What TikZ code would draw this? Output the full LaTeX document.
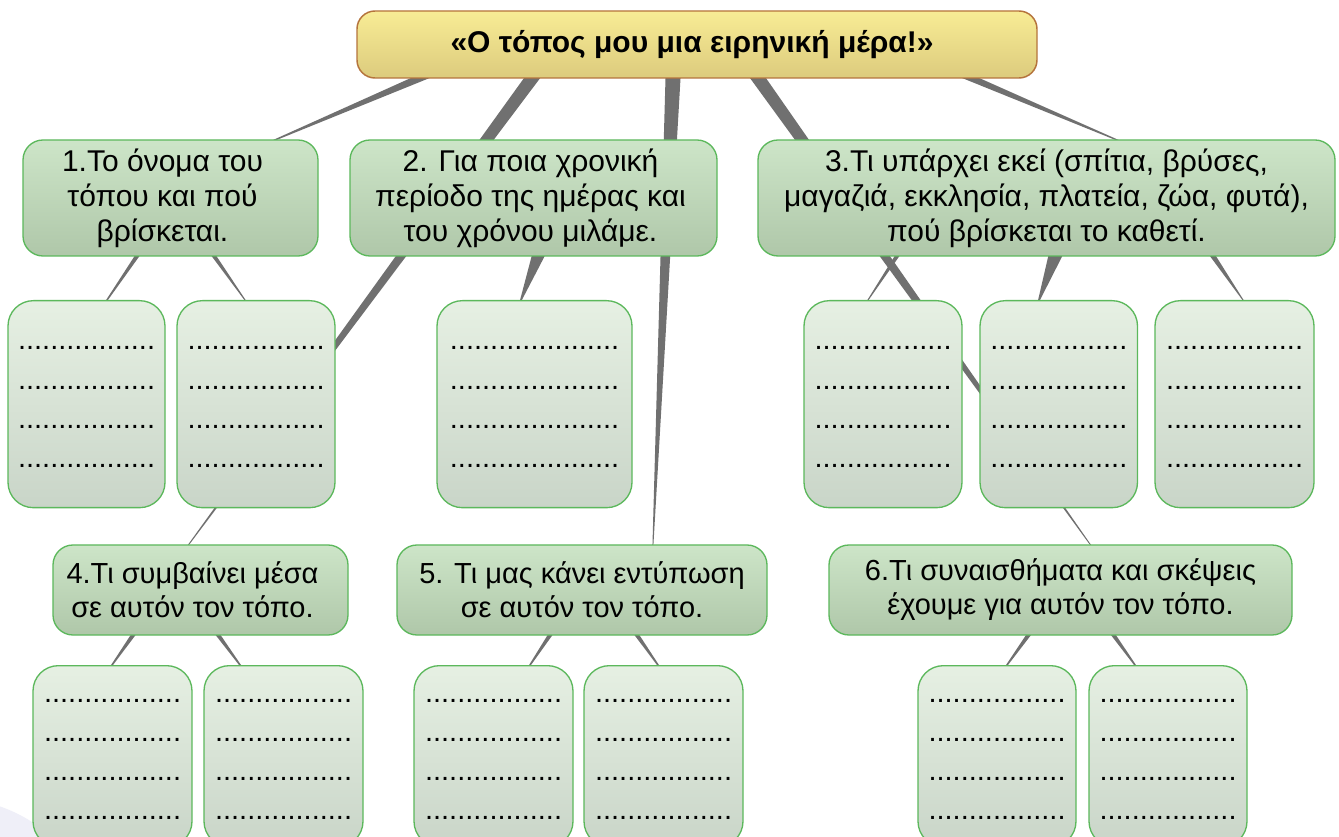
\documentclass[tikz,border=0pt]{standalone}
\usepackage{fontspec}
\setmainfont{Liberation Sans}
\usepackage{xcolor}
\usetikzlibrary{calc}
\definecolor{headtop}{HTML}{F8EC95}
\definecolor{headbottom}{HTML}{DCCB7D}
\definecolor{headrim}{HTML}{B5743C}
\definecolor{topictop}{HTML}{CDE5C8}
\definecolor{topicbottom}{HTML}{AFC7A9}
\definecolor{notetop}{HTML}{E6F0E3}
\definecolor{notebottom}{HTML}{C9D5C8}
\definecolor{leafrim}{HTML}{5CB85C}
\definecolor{twig}{HTML}{707070}
\definecolor{haze}{HTML}{EFEFF8}
\newlength\px
\setlength\px{0.75pt}
\newcommand\dotrow{.................}
\newcommand\dotrowlong{.....................}

% tapered branch: from (#1) with half width #3 to (#2) with half width #4
\newcommand\taper[4]{%
  \fill[twig] ($(#1)!#3!90:(#2)$) -- ($(#2)!#4!-90:(#1)$)
    -- ($(#2)!#4!90:(#1)$) -- ($(#1)!#3!-90:(#2)$) -- cycle;}

% green box with its text: name, x, y, width, height, text shift, text
\newcommand\topic[7]{%
  \node[topic,minimum width=#4\px,minimum height=#5\px] (#1) at (#2,#3) {};
  \node[topictext] (#1-text) at ($(#1)+(#6,0)$) {#7};}

% pale box with four dotted lines: name, x, top, width, height, first line, dots
\newcommand\notes[7]{%
  \node[note,minimum width=#4\px,minimum height=#5\px,anchor=north] (#1) at (#2,#3) {};
  \foreach \k in {0,...,3}
    \node[dotline] (#1-\k) at ($(#1.north)+(0,#6+39.3*\k)$) {#7};}

\begin{document}
\begin{tikzpicture}[x=0.75pt,y=-0.75pt,
    head/.style={draw=headrim,line width=1.1pt,rounded corners=13.5pt,
                 top color=headtop,bottom color=headbottom,
                 minimum width=510pt,minimum height=50.25pt},
    headtext/.style={font=\fontsize{22.5}{26}\selectfont\bfseries},
    topic/.style={draw=leafrim,line width=1pt,rounded corners=15pt,
                  top color=topictop,bottom color=topicbottom},
    topictext/.style={align=center,font=\fontsize{21.75}{25.5}\selectfont},
    note/.style={draw=leafrim,line width=1pt,rounded corners=19pt,
                 top color=notetop,bottom color=notebottom},
    dotline/.style={anchor=base,inner sep=0pt,font=\fontsize{21.75}{26}\selectfont}
  ]
  \fill[white] (0,0) rectangle (1339,837);
  \useasboundingbox (0,0) rectangle (1339,837);
  \clip (0,0) rectangle (1339,837);
  \fill[haze] (-50,950) circle[radius=114pt];

  % branches, drawn first so that the boxes hide their ends
  \foreach \b/\ax/\ay/\aw/\bx/\by/\bw in {
      h1/462/60/3.41pt/256/148/0.23pt,
      h4/549/55/5.1pt/181/555/0.26pt,
      h5/674/55/5.89pt/652.5/555/0.24pt,
      h6/741.6/55/5.1pt/1097.7/555/0.23pt,
      h3/928.5/60/3.1pt/1136/148/0.19pt,
      a1/142.5/248/1.69pt/103.6/305/0.45pt,
      a2/208.4/248/1.69pt/248.5/305/0.26pt,
      b1/542.2/245/5.53pt/519/305/0.19pt,
      c1/902.3/248/1.69pt/864.7/305/0.26pt,
      c2/1059/245/6pt/1037.2/305/0.19pt,
      c3/1207.5/248/2.14pt/1246.4/305/0.19pt,
      d1/138/628/1.72pt/108.5/670/0.45pt,
      d2/213/628/1.72pt/243.7/670/0.45pt,
      e1/554.7/628/1.72pt/526.7/670/0.45pt,
      e2/632/628/1.72pt/661.5/670/0.45pt,
      f1/1033.5/628/1.72pt/1003.4/670/0.45pt,
      f2/1108.4/628/1.72pt/1138.6/670/0.45pt}
  {
    \coordinate (\b-from) at (\ax,\ay);
    \coordinate (\b-to) at (\bx,\by);
    \taper{\b-from}{\b-to}{\aw}{\bw}
  }

  \node[head] (head) at (697,44.5) {};
  \node[headtext] (head-text) at ($(head)+(-5,0)$) {«Ο τόπος μου μια ειρηνική μέρα!»};

  \begin{scope}[topictext/.append style={font=\fontsize{22.5}{26.25}\selectfont}]
  \topic{t1}{170.5}{198}{295}{116}{-8}{1.Το όνομα του\\τόπου και πού\\βρίσκεται.}
  \topic{t2}{533.5}{198}{367}{116}{-3}{2. Για ποια χρονική\\περίοδο της ημέρας και\\του χρόνου μιλάμε.}
  \topic{t3}{1046.5}{198}{577}{116}{0}{3.Τι υπάρχει εκεί (σπίτια, βρύσες,\\μαγαζιά, εκκλησία, πλατεία, ζώα, φυτά),\\πού βρίσκεται το καθετί.}
  \end{scope}
  \topic{t4}{200.5}{590}{295}{90}{-8}{4.Τι συμβαίνει μέσα\\σε αυτόν τον τόπο.}
  \topic{t5}{582}{590}{370}{90}{0}{5. Τι μας κάνει εντύπωση\\σε αυτόν τον τόπο.}
  \topic{t6}{1060.5}{590}{463}{90}{0}{6.Τι συναισθήματα και σκέψεις\\έχουμε για αυτόν τον τόπο.}

  \notes{n1}{86.5}{300}{157}{207}{50}{\dotrow}
  \notes{n2}{256}{300}{158}{207}{50}{\dotrow}
  \notes{n3}{534.5}{300}{195}{207}{50}{\dotrowlong}
  \notes{n4}{883}{300}{158}{207}{50}{\dotrow}
  \notes{n5}{1058.75}{300}{157.5}{207}{50}{\dotrow}
  \notes{n6}{1234.5}{300}{159}{207}{50}{\dotrow}

  \notes{n7}{112.5}{665}{159}{181}{37}{\dotrow}
  \notes{n8}{283.5}{665}{159}{181}{37}{\dotrow}
  \notes{n9}{493.5}{665}{159}{181}{37}{\dotrow}
  \notes{n10}{663.5}{665}{159}{181}{37}{\dotrow}
  \notes{n11}{997}{665}{158}{181}{37}{\dotrow}
  \notes{n12}{1168}{665}{158}{181}{37}{\dotrow}
\end{tikzpicture}
\end{document}
